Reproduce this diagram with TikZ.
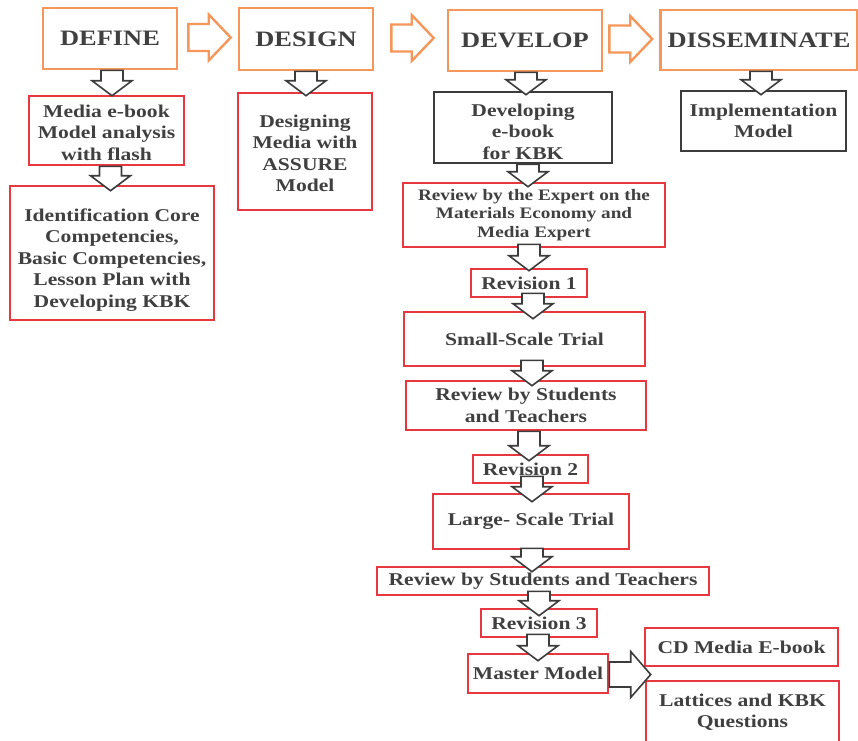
\documentclass[tikz,border=0pt]{standalone}
\usepackage{fontspec}
\setmainfont[FakeStretch=1.2]{Liberation Serif}
\usetikzlibrary{calc}
\definecolor{orng}{HTML}{F5965A}
\definecolor{redb}{HTML}{E8383F}
\definecolor{dk}{HTML}{3C3C3C}
\definecolor{txt}{HTML}{404040}
% box: name, style, cx, cy, w, h, text
\newcommand\bx[7]{\node[#2, minimum width=#5pt, minimum height=#6pt] (#1) at (#3,#4) {#7};}
% text lowered inside its box without changing the box
\newcommand\lowered[3]{\raisebox{-#1pt}[\height][\depth]{\parbox{#2pt}{\centering #3}}}
% down block arrow: from, to, x, up into from, down into to
\newcommand\darrow[5]{%
  \coordinate (s) at ($(#3,0 |- #1.south)+(0,0-#4)$);
  \coordinate (e) at ($(#3,0 |- #2.north)+(0,#5)$);
  \draw[darr] ($(s)+(-11,0)$) -- ($(s)+(11,0)$) -- ($(e)+(11,-15)$) -- ($(e)+(20,-15)$) -- (e)
    -- ($(e)+(-20,-15)$) -- ($(e)+(-11,-15)$) -- cycle;}
% right block arrow: [style] from, to, y, start offset, tip offset, shaft half, head half, head length
\newcommand\rarrow[9][]{%
  \coordinate (s) at ($(#2.east |- 0,#4)+(#5,0)$);
  \coordinate (e) at ($(#3.west |- 0,#4)+(0-#6,0)$);
  \draw[#1] ($(s)+(0,0-#7)$) -- ($(e)+(0-#9,0-#7)$) -- ($(e)+(0-#9,0-#8)$) -- (e)
    -- ($(e)+(0-#9,#8)$) -- ($(e)+(0-#9,#7)$) -- ($(s)+(0,#7)$) -- cycle;}
\begin{document}
\begin{tikzpicture}[x=1pt,y=-1pt,
  box/.style={draw, line width=2.6pt, fill=white, inner sep=0pt, align=center, text=txt,
    font=\bfseries\fontsize{18}{21.5}\selectfont},
  hbox/.style={box, draw=orng, font=\bfseries\fontsize{22}{25}\selectfont},
  rbox/.style={box, draw=redb},
  gbox/.style={box, draw=dk},
  smallfont/.style={font=\bfseries\fontsize{16}{18.5}\selectfont},
  oarr/.style={draw=orng, line width=2.4pt, fill=white, line join=miter},
  darr/.style={draw=dk, line width=1.6pt, fill=white, line join=miter}]
\fill[white] (0,0) rectangle (858,740);
\useasboundingbox (0,0) rectangle (858,740);
% headers
\bx{define}{hbox}{110}{38.5}{134}{61}{DEFINE}
\bx{design}{hbox}{306}{39}{134}{62}{DESIGN}
\bx{develop}{hbox}{525}{40.5}{154}{61}{DEVELOP}
\bx{dissem}{hbox}{759}{40}{197}{60}{DISSEMINATE}
% define column
\bx{media}{rbox}{106.5}{130.5}{155}{69}{\lowered{2}{150}{Media e-book\\Model analysis\\with flash}}
\bx{ident}{rbox}{112}{253}{204}{134}{\lowered{7}{200}{Identification Core\\Competencies,\\Basic Competencies,\\Lesson Plan with\\Developing KBK}}
% design column
\bx{designing}{rbox}{305}{151.5}{134}{117}{\lowered{2}{130}{Designing\\Media with\\ASSURE\\Model}}
% develop column
\bx{developing}{gbox}{523}{127.5}{178}{71}{\lowered{4}{170}{Developing\\e-book\\for KBK}}
\bx{rexpert}{rbox,smallfont}{534}{215}{262}{64}{Review by the Expert on the\\Materials Economy and\\Media Expert}
\bx{rev1}{rbox}{529}{283}{116}{28}{Revision 1}
\bx{small}{rbox}{524.5}{339}{241}{54}{Small-Scale Trial}
\bx{rst1}{rbox}{526}{405.5}{240}{49}{Review by Students\\and Teachers}
\bx{rev2}{rbox}{530.5}{469}{115}{28}{Revision 2}
\bx{large}{rbox}{531}{521.5}{196}{55}{Large- Scale Trial}
\bx{rst2}{rbox}{543}{581}{332}{28}{Review by Students and Teachers}
\bx{rev3}{rbox}{539}{623}{116}{28}{Revision 3}
\bx{master}{rbox}{538}{673.5}{140}{39}{Master Model}
\bx{cd}{rbox}{741.5}{647}{193}{38}{CD Media E-book}
\bx{lattices}{rbox}{742.5}{712}{193}{62}{Lattices and KBK\\Questions}
% disseminate column
\bx{impl}{gbox}{763.5}{121}{165}{60}{Implementation\\Model}
% orange right arrows
\rarrow[oarr]{define}{design}{37.5}{10}{7}{13.5}{23}{22}
\rarrow[oarr]{design}{develop}{38}{17}{13}{13.5}{23}{22}
\rarrow[oarr]{develop}{dissem}{39}{6}{7}{13.5}{23}{22}
% down arrows
\darrow{define}{media}{112}{0}{1}
\darrow{media}{ident}{110.5}{0}{6}
\darrow{design}{designing}{306}{0}{4}
\darrow{develop}{developing}{526}{0}{4}
\darrow{dissem}{impl}{761}{0}{5}
\darrow{developing}{rexpert}{528}{0}{5}
\darrow{rexpert}{rev1}{529}{4}{3}
\darrow{rev1}{small}{533}{5}{8}
\darrow{small}{rst1}{532}{7}{6}
\darrow{rst1}{rev2}{529}{0}{7}
\darrow{rev2}{large}{532}{8}{9}
\darrow{large}{rst2}{532}{2}{6}
\darrow{rst2}{rev3}{539}{5}{8}
\darrow{rev3}{master}{538}{4}{8}
% master to outputs
\rarrow[darr]{master}{cd}{674.5}{0}{-7}{12.5}{23}{20}
\end{tikzpicture}
\end{document}
